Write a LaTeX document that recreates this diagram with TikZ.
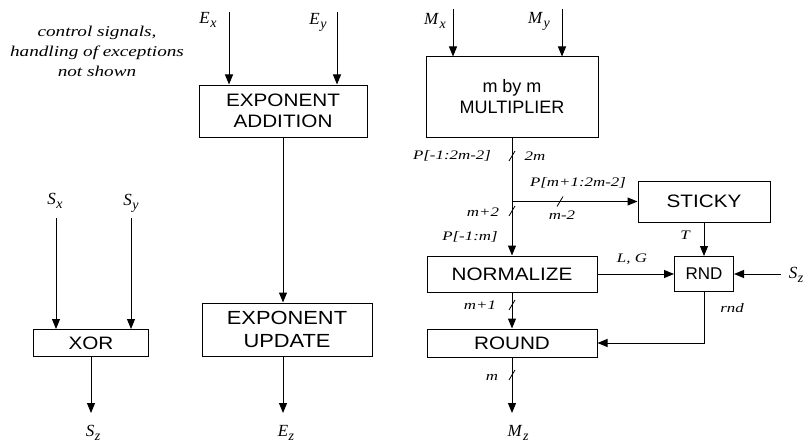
\RequirePackage{fix-cm}
\documentclass[tikz,border=0pt]{standalone}
\usepackage{fontspec}
\setmainfont{Liberation Serif}
\newfontfamily\boxfont[FakeStretch=1.15]{Liberation Sans}
\newfontfamily\plainboxfont{Liberation Sans}
\newcommand{\sgl}[2]{\textit{#1}\kern.5pt\raisebox{-4pt}{\fontsize{14}{14}\selectfont\textit{#2}}}
\usetikzlibrary{arrows.meta,calc}

\begin{document}
\begin{tikzpicture}[x=1pt,y=-1pt,
  blk/.style={draw,line width=1pt,font=\boxfont\fontsize{18}{21}\selectfont,align=center,inner sep=0pt},
  wire/.style={line width=1pt,-{Triangle[length=10pt,width=8pt]}},
  lbl/.style={font=\fontsize{13}{15}\selectfont\itshape,xscale=1.3,inner sep=0pt},
  sig/.style={font=\fontsize{17}{19}\selectfont,inner sep=0pt}]
\useasboundingbox (0,0) rectangle (811,444);
\node[font=\fontsize{15}{20}\selectfont\itshape,align=center,xscale=1.28,inner sep=0pt] (note) at (97,51) {control signals,\\handling of exceptions\\not shown};
% blocks
\node[blk,minimum width=115,minimum height=27] (xorbox) at (91,343) {XOR};
\node[blk,minimum width=168,minimum height=52] (expadd) at (283,111) {EXPONENT\\ADDITION};
\node[blk,minimum width=170,minimum height=53,font=\boxfont\fontsize{19}{23}\selectfont] (expupd) at (287,329.5) {EXPONENT\\UPDATE};
\node[blk,minimum width=172,minimum height=80,font=\plainboxfont\fontsize{18}{21}\selectfont] (mult) at (512,97) {m by m\\MULTIPLIER};
\node[blk,minimum width=132,minimum height=41] (sticky) at (704,201.5) {STICKY};
\node[blk,minimum width=170,minimum height=36] (norm) at (512,274) {NORMALIZE};
\node[blk,minimum width=59,minimum height=35,font=\plainboxfont\fontsize{17}{21}\selectfont] (rnd) at (704,274) {RND};
\node[blk,minimum width=170,minimum height=28] (roundbox) at (512,343) {ROUND};
% inputs and outputs
\coordinate (sx-in) at (56,218);\coordinate (sy-in) at (131,218);
\coordinate (ex-in) at (229,12);\coordinate (ey-in) at (337,12);
\coordinate (mx-in) at (453,9);\coordinate (my-in) at (562,9);
\coordinate (sz-in) at (781,274);
\coordinate (sz-out) at (91,413);\coordinate (ez-out) at (283,413);\coordinate (mz-out) at (512,413);
\coordinate (tap) at (mult.south |- sticky.west);
\node[sig] (sx-lbl) at (55,201) {\sgl{S}{x}};\node[sig] (sy-lbl) at (131,203) {\sgl{S}{y}};
\node[sig] (ex-lbl) at (208,20) {\sgl{E}{x}};\node[sig] (ey-lbl) at (318,22) {\sgl{E}{y}};
\node[sig] (mx-lbl) at (435,21) {\sgl{M}{x}};\node[sig] (my-lbl) at (539,21) {\sgl{M}{y}};
\node[sig] (szr-lbl) at (796,275) {\sgl{S}{z}};
\node[sig] (sz-lbl) at (93,433) {\sgl{S}{z}};\node[sig] (ez-lbl) at (286,433) {\sgl{E}{z}};\node[sig] (mz-lbl) at (518,433) {\sgl{M}{z}};
% connectors
\draw[wire] (sx-in) -- (sx-in |- xorbox.north);\draw[wire] (sy-in) -- (sy-in |- xorbox.north);
\draw[wire] (xorbox.south) -- (sz-out);
\draw[wire] (ex-in) -- (ex-in |- expadd.north);\draw[wire] (ey-in) -- (ey-in |- expadd.north);
\draw[wire] (expadd.south) -- (expadd.south |- expupd.north);
\draw[wire] (ez-out |- expupd.south) -- (ez-out);
\draw[wire] (mx-in) -- (mx-in |- mult.north);\draw[wire] (my-in) -- (my-in |- mult.north);
\draw[wire] (mult.south) -- (norm.north);
\draw[wire] (tap) -- (sticky.west);
\draw[wire] (sticky.south) -- (rnd.north);
\draw[wire] (norm.east) -- (rnd.west);
\draw[wire] (sz-in) -- (rnd.east);
\draw[wire] (rnd.south) |- (roundbox.east);
\draw[wire] (norm.south) -- (roundbox.north);
\draw[wire] (roundbox.south) -- (mz-out);
% bus widths
\foreach \p in {(512,156),(560,201.5),(512,211),(512,305),(512,375)}
  \draw[line width=.8pt] \p ++(-3,5) -- ++(6,-10);
\node[lbl] (p1) at (452,156) {P[-1:2m-2]};\node[lbl] (w1) at (535,156) {2m};
\node[lbl] (p2) at (578,183) {P[m+1:2m-2]};\node[lbl] (w2) at (562,215) {m-2};
\node[lbl] (w3) at (483,212) {m+2};\node[lbl] (p3) at (470,237) {P[-1:m]};
\node[lbl] (w4) at (480,305) {m+1};\node[lbl] (w5) at (492,377) {m};
\node[lbl] (t) at (685,235) {T};\node[lbl] (lg) at (632,259) {L, G};
\node[lbl] (rd) at (732,308) {rnd};
\end{tikzpicture}
\end{document}
